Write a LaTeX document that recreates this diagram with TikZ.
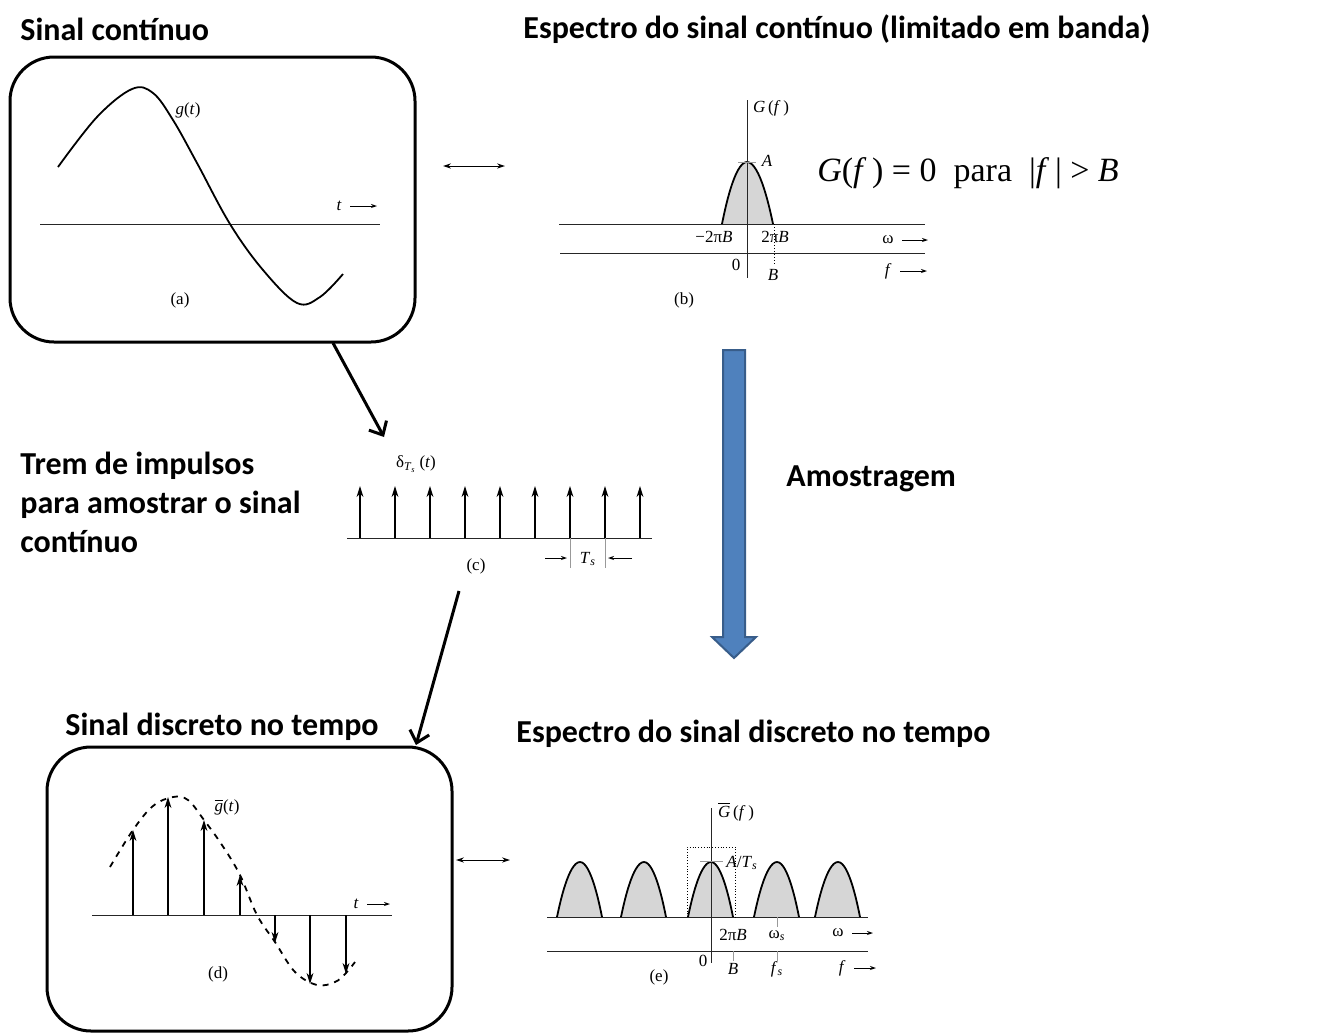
\documentclass[tikz,border=0pt]{standalone}
\usepackage{fontspec}
\setmainfont{Carlito}
\newfontfamily\figfont{Liberation Serif}
\usetikzlibrary{arrows.meta, positioning}

\definecolor{flowblue}{RGB}{79,129,189}
\definecolor{flowedge}{RGB}{56,93,138}

\begin{document}
\begin{tikzpicture}[
    x=0.5pt, y=-0.5pt,
    title/.style={font=\fontsize{16}{19.5}\selectfont\bfseries, inner sep=0pt, align=left},
    lbl/.style={font=\figfont\fontsize{8.5}{10}\selectfont, inner sep=1pt},
    panelbox/.style={draw, line width=1.5pt, rounded corners=22pt},
    axis/.style={line width=0.5pt, black!85},
    curve/.style={line width=0.9pt},
    pulse/.style={curve, fill=black!16},
    impulse/.style={line width=0.8pt, -{Stealth[length=5.5pt, width=3.4pt]}},
    tick/.style={line width=0.4pt, black!40},
    unitarrow/.style={line width=0.5pt, -{Stealth[length=3pt, width=2pt]}},
    flow/.style={line width=1.5pt, -{Straight Barb[length=5.5pt, width=10pt, line width=1.5pt]}},
    pair/.style={line width=0.5pt, {Stealth[length=4pt, width=2.6pt]}-{Stealth[length=4pt, width=2.6pt]}}
  ]
    \useasboundingbox (0,0) rectangle (1324,1035);

    % Titles
    \node[title, anchor=west] (t_cont) at (20,29) {Sinal contínuo};
    \node[title, anchor=west] (t_spec) at (523,29) {Espectro do sinal contínuo (limitado em banda)};
    \node[title, anchor=west] (t_trem) at (20,502) {Trem de impulsos\\para amostrar o sinal\\contínuo};
    \node[title, anchor=west] (t_amos) at (786,479) {Amostragem};
    \node[title, anchor=west] (t_disc) at (65,727) {Sinal discreto no tempo};
    \node[title, anchor=west] (t_dspec) at (516,734) {Espectro do sinal discreto no tempo};

    % Panel (a): continuous signal
    \draw[panelbox] (10,57) rectangle (415,342);
    \draw[axis] (40,224) -- (380,224);
    \draw[curve] plot[smooth, tension=0.6] coordinates {(58,167) (97,117) (132,89) (153,93) (173,120)
      (197,163) (230,224) (263,270) (297,303) (320,297) (343,274)};
    \node[lbl] (g_a) at (188,110) {\textit{g}(\textit{t})};
    \node[lbl, anchor=east] (t_a) at (344,206) {\textit{t}};
    \coordinate (t_a_end) at (377,206);
    \draw[unitarrow] ([xshift=3pt]t_a.east) -- (t_a_end);
    \node[lbl] (cap_a) at (180,300) {(a)};

    % Panel (b): band-limited spectrum
    \draw[pulse] (722,224) parabola bend (747,162) (773,224);
    \draw[axis] (559,224) -- (925,224);
    \draw[axis] (560,253) -- (925,253);
    \draw[axis] (747,100) -- (747,278);
    \draw[tick] (738,162) -- (756,162);
    \draw[densely dotted, line width=0.5pt] (774,224) -- (774,266);
    \node[lbl] (G_b) at (771,108) {\textit{G}\,(\textit{f}\,)};
    \node[lbl] (A_b) at (767,161) {\textit{A}};
    \node[lbl] (m2piB_b) at (714,237) {−2π\textit{B}};
    \node[lbl] (p2piB_b) at (775,237) {2π\textit{B}};
    \node[lbl] (zero_b) at (736,265) {0};
    \node[lbl] (B_b) at (773,275) {\textit{B}};
    \node[lbl, anchor=east] (w_b) at (896,240) {ω};
    \coordinate (w_b_end) at (928,240);
    \draw[unitarrow] ([xshift=3pt]w_b.east) -- (w_b_end);
    \node[lbl, anchor=east] (f_b) at (894,271) {\textit{f}};
    \coordinate (f_b_end) at (927,271);
    \draw[unitarrow] ([xshift=3pt]f_b.east) -- (f_b_end);
    \node[lbl] (cap_b) at (684,300) {(b)};
    \node[font=\figfont\fontsize{17}{20}\selectfont, inner sep=0pt] (cond) at (968,173)
      {\textit{G}(\textit{f}\,) = 0\ \ para\ \ |\textit{f}\,| > \textit{B}};

    % Pair arrows
    \coordinate (pa_l) at (443,166);
    \coordinate (pa_r) at (505,166);
    \draw[pair] (pa_l) -- (pa_r);
    \coordinate (pb_l) at (456,860);
    \coordinate (pb_r) at (510,860);
    \draw[pair] (pb_l) -- (pb_r);

    % Sampling arrow
    \draw[fill=flowblue, draw=flowedge, line width=1pt]
      (723,350) -- (745,350) -- (745,637) -- (756,637) -- (734,658) -- (712,637) -- (723,637) -- cycle;

    % Panel (c): impulse train
    \draw[axis] (347,538) -- (652,538);
    \foreach \x in {360,395,...,640}
      \draw[impulse] (\x,538) -- (\x,486);
    \node[lbl] (d_c) at (416,464) {δ\textsubscript{\textit{T}\textsubscript{\textit{s}}}\,(\textit{t})};
    \draw[tick] (570,538) -- (570,568);
    \draw[tick] (605,538) -- (605,568);
    \coordinate (ts_l) at (545,558);
    \coordinate (ts_r) at (632,558);
    \draw[unitarrow] (ts_l) -- (567,558);
    \draw[unitarrow] (ts_r) -- (608,558);
    \node[lbl] (ts_c) at (588,559) {\textit{T}\textsubscript{\textit{s}}};
    \node[lbl] (cap_c) at (476,566) {(c)};

    % Flow arrows
    \coordinate (fa_s) at (333,343);
    \coordinate (fa_e) at (384,437);
    \draw[flow] (fa_s) -- (fa_e);
    \coordinate (fb_s) at (459,591);
    \coordinate (fb_e) at (416,745);
    \draw[flow] (fb_s) -- (fb_e);

    % Panel (d): sampled signal
    \draw[panelbox] (47,747) rectangle (452,1031);
    \draw[axis] (92,915) -- (392,915);
    \draw[curve, dash pattern=on 3pt off 3pt] plot[smooth, tension=0.6] coordinates {(110,867) (133,830)
      (153,806) (173,797) (188,800) (204,820) (222,845) (240,875) (257,915) (275,942) (295,972)
      (317,985) (335,982) (346,973) (355,962)};
    \foreach \x/\y in {133/830, 168/797, 204/820, 240/875, 275/943, 310/984, 346/974}
      \draw[impulse] (\x,915) -- (\x,\y);
    \node[lbl] (g_d) at (227,807) {$\overline{\mbox{\textit{g}}}$(\textit{t})};
    \node[lbl, anchor=east] (t_d) at (361,904) {\textit{t}};
    \coordinate (t_d_end) at (390,904);
    \draw[unitarrow] ([xshift=3pt]t_d.east) -- (t_d_end);
    \node[lbl] (cap_d) at (218,974) {(d)};

    % Panel (e): spectrum of sampled signal
    \foreach \c in {580,644,711,777,838}
      \draw[pulse] (\c-23,917) parabola bend (\c,862) (\c+22,917);
    \draw[axis] (547,917) -- (868,917);
    \draw[axis] (547,951) -- (868,951);
    \draw[axis] (711,808) -- (711,963);
    \draw[densely dotted, line width=0.4pt] (687,917) -- (687,847) -- (735,847) -- (735,917);
    \draw[tick] (700,861) -- (723,861);
    \draw[tick] (733,951) -- (733,961);
    \draw[tick] (777,917) -- (777,927);
    \draw[tick] (777,951) -- (777,961);
    \node[lbl] (G_e) at (736,812) {$\overline{\mbox{\textit{G}}}$\,(\textit{f}\,)};
    \node[lbl, anchor=west] (A_e) at (724,863) {\textit{A}/\textit{T}\textsubscript{\textit{s}}};
    \node[lbl] (p2piB_e) at (733,935) {2π\textit{B}};
    \node[lbl] (ws_e) at (777,936) {ω\textsubscript{\textit{s}}};
    \node[lbl] (zero_e) at (703,961) {0};
    \node[lbl] (B_e) at (733,969) {\textit{B}};
    \node[lbl] (fs_e) at (777,969) {\textit{f}\textsubscript{\textit{s}}};
    \node[lbl, anchor=east] (w_e) at (846,933) {ω};
    \coordinate (w_e_end) at (873,933);
    \draw[unitarrow] ([xshift=3pt]w_e.east) -- (w_e_end);
    \node[lbl, anchor=east] (f_e) at (848,968) {\textit{f}};
    \coordinate (f_e_end) at (876,968);
    \draw[unitarrow] ([xshift=3pt]f_e.east) -- (f_e_end);
    \node[lbl] (cap_e) at (659,977) {(e)};
  \end{tikzpicture}
\end{document}
